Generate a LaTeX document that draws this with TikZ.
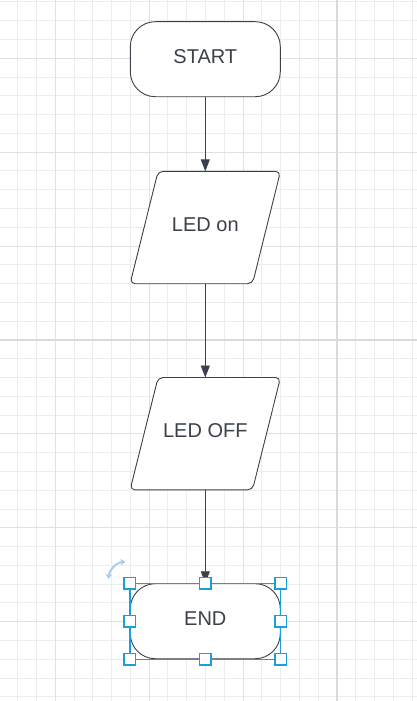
\documentclass[tikz,border=0pt]{standalone}
\usepackage{fontspec}
\setmainfont{Liberation Sans}
\usetikzlibrary{arrows.meta}
\definecolor{ink}{HTML}{3A414A}
\definecolor{gridminor}{HTML}{EDEDED}
\definecolor{gridmid}{HTML}{E1E1E1}
\definecolor{gridmajor}{HTML}{DADADA}
\definecolor{sel}{HTML}{1A9EDC}
\definecolor{rot}{HTML}{AACCEE}
\begin{document}
\begin{tikzpicture}[x=1pt,y=-1pt,
 lbl/.style={inner sep=0pt, text=ink, font=\fontsize{20}{23}\selectfont, text height=14.3pt, text depth=6pt},
 term/.style={lbl, draw=ink, fill=white, line width=0.9pt, rounded corners=25pt, minimum width=150pt, minimum height=75pt},
 iobox/.style={lbl, minimum width=150pt, minimum height=112pt},
 ioshape/.style={draw=ink, fill=white, line width=0.9pt, rounded corners=5pt},
 flow/.style={draw=ink, line width=0.9pt, -{Triangle[length=12pt,width=9pt]}},
 handle/.style={draw=sel, fill=white, line width=1.5pt, minimum size=11.5pt, inner sep=0pt}
]
\fill[white] (0,0) rectangle (417,701);
\useasboundingbox (0,0) rectangle (417,701);
% grid
\foreach \k in {-2,...,19} {
  \pgfmathsetmacro\xx{55.3+18.78*\k}
  \draw[gridminor, line width=1pt] (\xx,0) -- (\xx,701);
}
\foreach \k in {-3,...,34} {
  \pgfmathsetmacro\yy{58.3+18.78*\k}
  \draw[gridminor, line width=1pt] (0,\yy) -- (417,\yy);
}
\foreach \k in {0,5,10} {
  \pgfmathsetmacro\xx{55.3+18.78*\k}
  \draw[gridmid, line width=1pt] (\xx,0) -- (\xx,701);
}
\foreach \k in {0,5,10,20,25,30} {
  \pgfmathsetmacro\yy{58.3+18.78*\k}
  \draw[gridmid, line width=1pt] (0,\yy) -- (417,\yy);
}
\draw[gridmajor, line width=2pt] (337,0) -- (337,701);
\draw[gridmajor, line width=2pt] (0,340) -- (417,340);
% shapes
\node[term] (start) at (205.3,59.2) {START};
\node[iobox] (ledon) at (205.3,227.5) {};
\draw[ioshape] ([xshift=28pt]ledon.north west) -- (ledon.north east) -- ([xshift=-28pt]ledon.south east) -- (ledon.south west) -- cycle;
\node[lbl] (ledonl) at (ledon) {LED on};
\node[iobox] (ledoff) at (205.3,433.7) {};
\draw[ioshape] ([xshift=28pt]ledoff.north west) -- (ledoff.north east) -- ([xshift=-28pt]ledoff.south east) -- (ledoff.south west) -- cycle;
\node[lbl] (ledoffl) at (ledoff) {LED OFF};
\node[term] (end) at (205.3,621.2) {END};
% connectors
\draw[flow] (start.south) -- (ledon.north);
\draw[flow] (ledon.south) -- (ledoff.north);
\draw[flow] (ledoff.south) -- (end.north);
% selection
\draw[sel, line width=1.3pt] (end.north west) rectangle (end.south east);
\node[handle] (h1) at (end.north west) {};
\node[handle] (h2) at (end.north) {};
\node[handle] (h3) at (end.north east) {};
\node[handle] (h4) at (end.west) {};
\node[handle] (h5) at (end.east) {};
\node[handle] (h6) at (end.south west) {};
\node[handle] (h7) at (end.south) {};
\node[handle] (h8) at (end.south east) {};
% rotate icon
\draw[rot, line width=2pt, {Stealth[length=5pt,width=6.5pt]}-{Stealth[length=5pt,width=6.5pt]}] (108.5,579) .. controls (109,571) and (115,563) .. (125.5,561.5);
\end{tikzpicture}
\end{document}
